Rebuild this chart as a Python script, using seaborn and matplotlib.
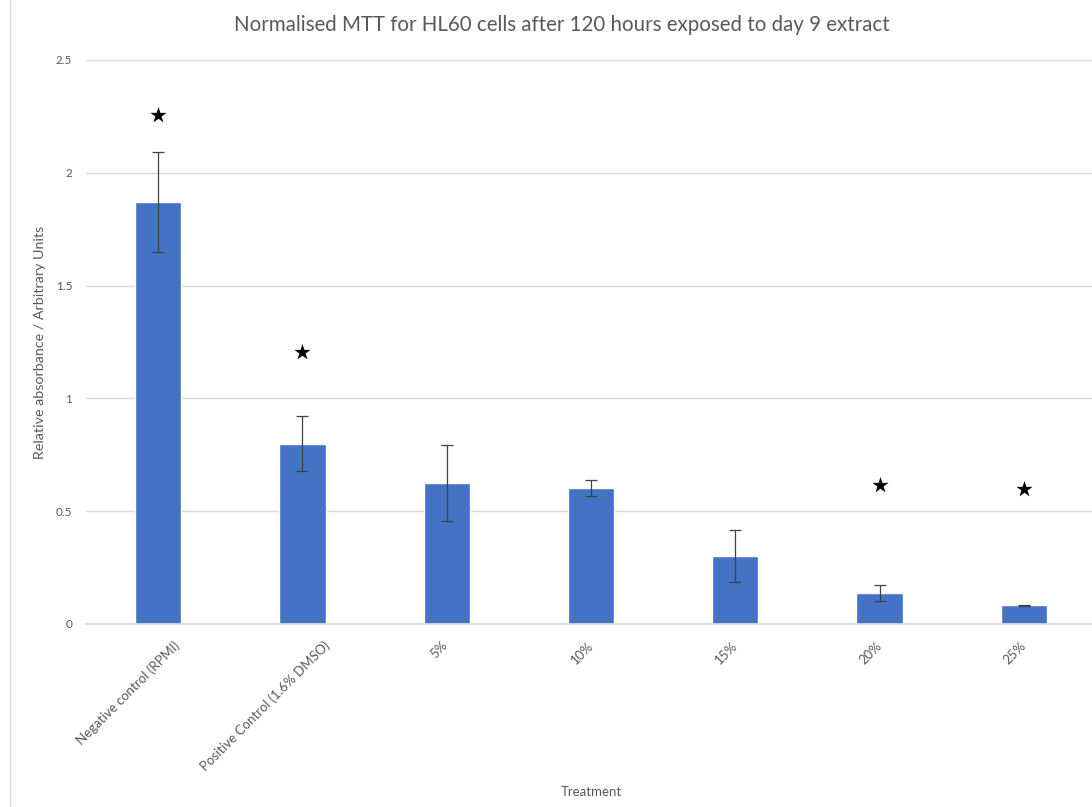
import matplotlib
matplotlib.use("Agg")
import matplotlib.pyplot as plt
from matplotlib.lines import Line2D
from matplotlib.transforms import ScaledTranslation
import seaborn as sns
import pandas as pd

# Treatment groups and normalised MTT readings
treatments = ["Negative control (RPMI)", "Positive Control (1.6% DMSO)",
              "5%", "10%", "15%", "20%", "25%"]
absorbance = [1.87, 0.80, 0.625, 0.603, 0.303, 0.137, 0.083]
error = [0.22, 0.12, 0.17, 0.035, 0.115, 0.035, 0.003]
# Significance stars: (treatment index, height)
star_index = [0, 1, 5, 6]
star_height = [2.256, 1.206, 0.616, 0.598]

y_ticks = [0, 0.5, 1, 1.5, 2, 2.5]
y_tick_labels = ["0", "0.5", "1", "1.5", "2", "2.5"]

sns.set_theme(style="white")
plt.rcParams["font.family"] = ["Lato", "DejaVu Sans"]

BAR = "#4472C4"
TEXT = "#595959"
GRID = "#D9D9D9"

df = pd.DataFrame({"Treatment": treatments, "Absorbance": absorbance})

fig = plt.figure(figsize=(10.92, 8.07), dpi=100)
ax = fig.add_axes([86 / 1092, 1 - 624 / 807, 1010 / 1092, 564 / 807])

sns.barplot(data=df, x="Treatment", y="Absorbance", color=BAR, saturation=1,
            width=0.32, errorbar=None, ax=ax, zorder=2)

ax.errorbar(range(len(treatments)), absorbance, yerr=error, fmt="none",
            ecolor="#404040", elinewidth=0.9, capsize=4, capthick=0.9, zorder=3)

ax.scatter(star_index, star_height, marker="*", s=150, color="black",
           linewidths=0, zorder=4)

ax.set_xlim(-0.5, len(treatments) - 0.5)
ax.set_ylim(0, 2.5)
ax.set_yticks(y_ticks)
ax.set_yticklabels(y_tick_labels, fontsize=8.5, color=TEXT)
ax.yaxis.grid(True, color=GRID, linewidth=1)
ax.set_axisbelow(True)
for side in ["top", "right", "left"]:
    ax.spines[side].set_visible(False)
ax.spines["bottom"].set_color(GRID)
ax.tick_params(axis="both", length=0, pad=10)

ax.set_xticks(range(len(treatments)))
ax.set_xticklabels(treatments, rotation=45, ha="right", rotation_mode="anchor",
                   fontsize=9.5, color=TEXT)
ax.tick_params(axis="x", pad=11)

# Longer rotated category labels sit further to the right of their tick
fig.canvas.draw()
renderer = fig.canvas.get_renderer()
for lab in ax.get_xticklabels():
    span = lab.get_window_extent(renderer).width
    dx = (0.23 * span - 10) / fig.dpi
    lab.set_transform(lab.get_transform() + ScaledTranslation(dx, 0, fig.dpi_scale_trans))

ax.set_xlabel("Treatment", fontsize=9.5, color=TEXT)
ax.xaxis.set_label_coords(0.5, -0.288)
ax.set_ylabel("Relative absorbance / Arbitrary Units", fontsize=10.3, color=TEXT)
ax.yaxis.set_label_coords(-0.04, 0.5)

fig.text(562 / 1092, 1 - 25 / 807,
         "Normalised MTT for HL60 cells after 120 hours exposed to day 9 extract",
         ha="center", va="center", fontsize=14.8, color=TEXT)

fig.add_artist(Line2D([10 / 1092, 10 / 1092], [0, 1], color=GRID, linewidth=1,
                      transform=fig.transFigure))

fig.savefig("out.png", dpi=100)
